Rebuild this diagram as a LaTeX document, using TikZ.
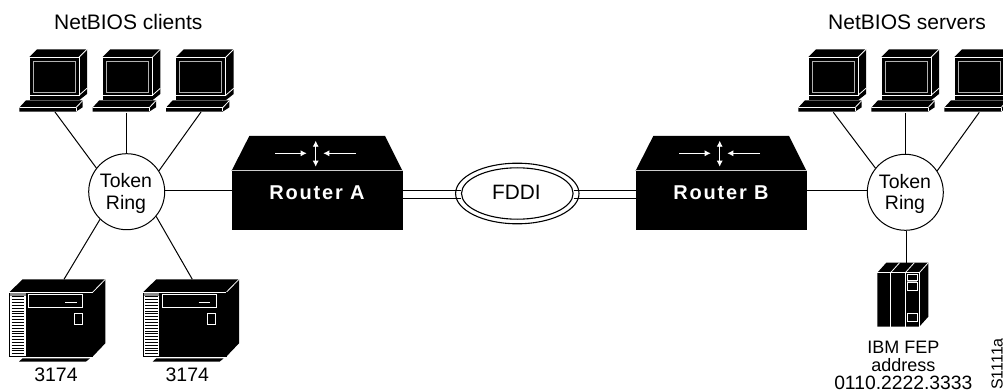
\documentclass[tikz,border=0pt]{standalone}
\usepackage{fontspec}
\setmainfont{Liberation Sans}
\usetikzlibrary{arrows.meta,shapes.geometric}
\tikzset{
  x=1pt,y=-1pt,
  wire/.style={draw=black,line width=1pt},
  hi/.style={draw=white,line width=0.8pt},
  soft/.style={draw=black!30,line width=0.9pt},
  lbl/.style={inner sep=0,anchor=base,font=\fontsize{#1}{22}\selectfont},
  lbl/.default=19.5,
  ringnode/.style={circle,draw=black,line width=1pt,fill=white,minimum size=76pt,inner sep=0},
  ringtext/.style={inner sep=0,anchor=base,font=\fontsize{19.5}{22}\selectfont},
  flow/.style={draw=white,line width=0.8pt,-{Latex[length=6pt,width=6pt]}},
  pics/computer/.style={code={
    \fill[black] (0,0)--(8,-8)--(58,-8)--(58,36.7)--(50,43)--(50,43.5)--(0,43.5)--cycle;
    \draw[hi] (0,0)--(50,0)--(50,38)--(0,38)--cycle;
    \draw[hi] (50,0)--(58,-8);
    \draw[hi] (50,38)--(58,31);
    \draw[hi] (0,38)--(0,43)--(50,43);
    \draw[soft] (4,4.3) rectangle (46,34.7);
    \fill[black] (-9.7,50.3)--(-3,43)--(53.7,43)--(53.7,50)--(47,54.3)--(-9.7,54.3)--cycle;
    \draw[hi] (-9.7,50.3)--(47,50.3)--(53.7,43.3);
    \draw[hi] (47,50.3)--(47,54);
  }},
  pics/controller/.style={code={
    \fill[black] (0,0)--(13.3,-13)--(96,-13)--(96,51)--(83.3,64.3)--(0,64.3)--cycle;
    \draw[hi] (83.3,0)--(96,-13);
    \draw[hi] (83.3,0)--(83.3,64.3);
    \fill[white] (0.7,3.2) rectangle (16.3,63.6);
    \fill[black!45] (0.7,0.7) rectangle (16.3,3.2);
    \foreach \s in {0,...,20} {\draw[black,line width=1pt] (2.3,4.5+2.85*\s)--(14.7,4.5+2.85*\s);}
    \draw[black,line width=1pt] (0,0) rectangle (83.3,64.3);
    \draw[hi] (0,0.2)--(83.3,0.2);
    \draw[hi] (19,2) rectangle (73.3,15.3);
    \draw[hi] (55.7,10)--(67.3,10);
    \draw[hi] (64.7,21) rectangle (72.7,32);
    \fill[black] (9.7,69.3)--(13.3,66)--(80.7,66)--(76.7,69.3)--cycle;
  }},
  pics/fep/.style={code={
    \fill[black] (0,0)--(9,-10)--(51,-10)--(51,44)--(42,54)--(0,54)--cycle;
    \draw[hi] (0,0)--(42,0)--(42,54);
    \draw[hi] (42,0)--(51,-10);
    \draw[hi] (13.3,0)--(13.3,54);
    \draw[hi] (28,0)--(28,54);
    \draw[hi] (13.3,0)--(22.3,-10);
    \draw[hi] (28,0)--(37,-10);
    \draw[hi] (30,1.7) rectangle (40,8);
    \fill[black!45] (30,8) rectangle (40,10);
    \draw[hi] (30,10) rectangle (40,18);
    \draw[hi] (30,40.7) rectangle (40,49);
  }},
  pics/router/.style={code={
    \fill[black] (-85.5,-29.5)--(-67.7,-64.5)--(68,-64.5)--(85.5,-29.5)--cycle;
    \node[fill=black,minimum width=171pt,minimum height=59pt,inner sep=0,outer sep=0] (-body) at (0,0) {};
    \draw[draw=black!20,line width=1pt] (-85.5,-29.5)--(85.5,-29.5);
    \draw[flow] (-42,-47.2)--(-10.3,-47.2);
    \draw[flow] (39,-47.2)--(6.3,-47.2);
    \draw[draw=white,line width=0.8pt,{Latex[length=6pt,width=6pt]}-{Latex[length=6pt,width=6pt]}] (-1.3,-59.8)--(-1.3,-33.8);
    \node[text=white,inner sep=0,anchor=base,font=\fontsize{20}{22}\selectfont\bfseries\addfontfeature{LetterSpace=9}] (-name) at (0,-1.2) {#1};
  }},
}
\begin{document}
\begin{tikzpicture}
\clip (0,0) rectangle (1003,390);
\fill[white] (0,0) rectangle (1003,390);

% rings
\node[ringnode] (ringL) at (126.7,191.7) {};
\node[ringnode] (ringR) at (905.3,192.3) {};
\node[ringtext] (ringLa) at (126,187.7) {Token};
\node[ringtext] (ringLb) at (126,209.3) {Ring};
\node[ringtext] (ringRa) at (905,188.3) {Token};
\node[ringtext] (ringRb) at (905,209.3) {Ring};

% devices
\pic (pc1) at (29,57.3) {computer};
\pic (pc2) at (102.3,57.3) {computer};
\pic (pc3) at (175.7,57.3) {computer};
\pic (pc4) at (808,57.3) {computer};
\pic (pc5) at (881,57.3) {computer};
\pic (pc6) at (954,57.3) {computer};
\pic (ctl1) at (9.3,292.3) {controller};
\pic (ctl2) at (143,292.3) {controller};
\pic (fep1) at (877.3,272.7) {fep};
\pic (routerA) at (317,200.5) {router={Router A}};
\pic (routerB) at (721,200.5) {router={Router B}};

% FDDI
\node[ellipse,draw=black,line width=1.1pt,minimum width=123.4pt,minimum height=60.6pt,inner sep=0] (fddiOuter) at (517.3,193.5) {};
\node[ellipse,draw=black,line width=1.1pt,fill=white,minimum width=111.6pt,minimum height=51.4pt,inner sep=0] (fddiInner) at (517.3,193.5) {};
\node[lbl=20.8] (fddiText) at (516.3,200) {FDDI};

% ports
\coordinate (p1) at (55,112);
\coordinate (p2) at (126.7,113);
\coordinate (p3) at (201,112);
\coordinate (p4) at (833.3,112.3);
\coordinate (p5) at (905.3,113);
\coordinate (p6) at (979.3,112.3);
\coordinate (p7) at (64,279.3);
\coordinate (p8) at (192.3,279.3);
\coordinate (p9) at (906.3,262.7);

% connectors
\draw[wire] (p1)--(ringL.142);
\draw[wire] (p2)--(ringL.north);
\draw[wire] (p3)--(ringL.33);
\draw[wire] (p4)--(ringR.141);
\draw[wire] (p5)--(ringR.north);
\draw[wire] (p6)--(ringR.34);
\draw[wire] (ringL.226)--(p7);
\draw[wire] (ringL.320)--(p8);
\draw[wire] (p9)--(ringR.south-|p9);
\draw[wire] (ringL.east|-0,190.7)--(routerA-body.west|-0,190.7);
\draw[wire] (routerB-body.east|-0,190.7)--(ringR.west|-0,190.7);
\draw[wire] (routerA-body.east|-0,190.7)--(fddiInner.west|-0,190.7);
\draw[wire] (routerA-body.east|-0,198.3)--(fddiInner.west|-0,198.3);
\draw[wire] (fddiInner.east|-0,190.7)--(routerB-body.west|-0,190.7);
\draw[wire] (fddiInner.east|-0,198.3)--(routerB-body.west|-0,198.3);

% labels
\node[lbl=21] (t1) at (128.3,29.3) {NetBIOS clients};
\node[lbl=21] (t2) at (907,29.3) {NetBIOS servers};
\node[lbl] (t3) at (56,381.7) {3174};
\node[lbl] (t4) at (187.3,381.7) {3174};
\node[lbl=18] (t5) at (903.3,353.3) {IBM FEP};
\node[lbl=18] (t6) at (903.3,371.7) {address};
\node[lbl=19.3] (t7) at (903.3,389) {0110.2222.3333};
\node[lbl=16,rotate=90,anchor=base west] (t8) at (1002.5,390) {S1111a};
\end{tikzpicture}
\end{document}
